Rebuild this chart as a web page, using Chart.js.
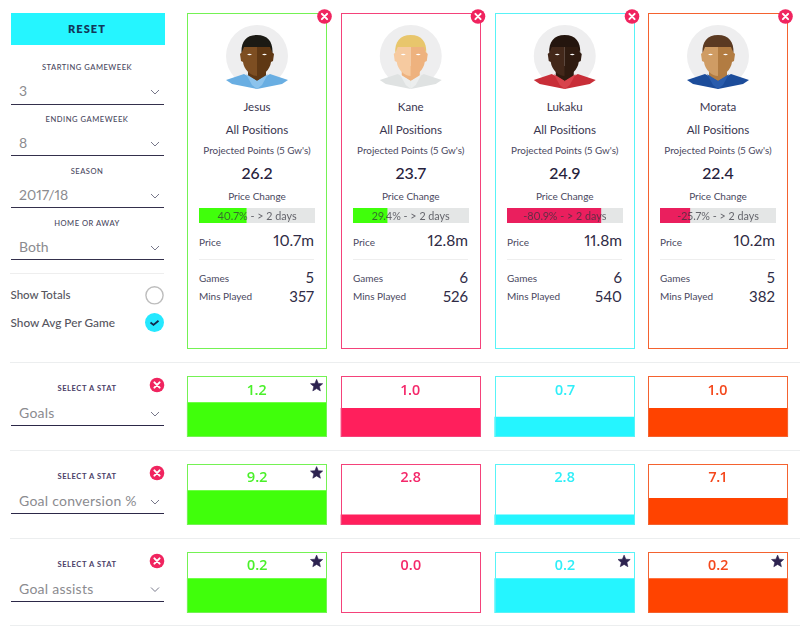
<!DOCTYPE html>
<html><head><meta charset="utf-8">
<style>
html,body{margin:0;padding:0;background:#fff;width:800px;height:628px;overflow:hidden}
#root{position:relative;width:800px;height:628px;font-family:"Lato","Noto Sans",sans-serif;color:#2f2b45;font-variant-numeric:proportional-nums;font-feature-settings:"pnum" 1}
#root div.t{position:absolute;white-space:nowrap;line-height:1}
#root canvas{position:absolute}
#root svg{position:absolute;overflow:visible}
.box{position:absolute;box-sizing:border-box}
</style>
<script src="https://cdn.jsdelivr.net/npm/chart.js@4/dist/chart.umd.min.js"></script>
</head><body><div id="root"></div>
<script>
const players=["Jesus","Kane","Lukaku","Morata"];
const projectedPoints=["26.2","23.7","24.9","22.4"];
const priceChange=[40.7,29.4,-80.9,-25.7];
const prices=["10.7m","12.8m","11.8m","10.2m"];
const games=[5,6,6,5];
const minsPlayed=[357,526,540,382];
const statNames=["Goals","Goal conversion %","Goal assists"];
const goals=[1.2,1.0,0.7,1.0];
const goalConversion=[9.2,2.8,2.8,7.1];
const goalAssists=[0.2,0.0,0.2,0.2];
const statStars=[[0],[0],[0,2,3]];
const statAxisMax=[2.1,16.1,0.35];
const filterLabels=["STARTING GAMEWEEK","ENDING GAMEWEEK","SEASON","HOME OR AWAY"];
const filterValues=["3","8","2017/18","Both"];

const root=document.getElementById('root');
const NS='http://www.w3.org/2000/svg';
const barCols=['#40ff0b','#ff1f5c','#25f5ff','#ff4300'];
const borderCols=['#74f254','#f4427a','#58f3f7','#f4622f'];
const cardL=[187,341,495,648], cardW=[140,139.5,139.5,140];
const faces=[
 {l:'#7d4e22',r:'#5f3814',hair:'#1b1a14',shirt:'#69aee2',shirt2:'#8cc3ec'},
 {l:'#f6caa0',r:'#eeb27e',hair:'#e8c66c',shirt:'#dfe2e2',shirt2:'#eceeee'},
 {l:'#43281a',r:'#2f1b10',hair:'#24150e',shirt:'#c82e38',shirt2:'#d8434c'},
 {l:'#cf9c64',r:'#b27c42',hair:'#5b3a22',shirt:'#1c4c9a',shirt2:'#2a5cac'}];

function T(s,x,y,o={}){
 const d=document.createElement('div');d.className='t';d.textContent=s;
 const a=o.a||'l';
 d.style.top=y+'px';
 d.style.left=x+'px';
 d.style.transform='translate('+(a==='c'?'-50%':a==='r'?'-100%':'0')+',-50%)';
 d.style.fontSize=(o.s||12)+'px';
 d.style.color=o.c||'#3a3650';
 if(o.w)d.style.fontWeight=o.w;
 if(o.f)d.style.fontFamily=o.f;
 if(o.ls)d.style.letterSpacing=o.ls+'px';
 if(o.z)d.style.zIndex=o.z;
 root.appendChild(d);return d;
}
function B(x,y,w,h,css){const d=document.createElement('div');d.className='box';
 d.style.cssText+=`left:${x}px;top:${y}px;width:${w}px;height:${h}px;`+(css||'');root.appendChild(d);return d;}
function S(markup,z){const s=document.createElementNS(NS,'svg');s.setAttribute('width','800');s.setAttribute('height','628');
 s.style.left='0';s.style.top='0';if(z)s.style.zIndex=z;s.innerHTML=markup;root.appendChild(s);}
const chev=(x,y)=>`<polyline points="${x-4},${y-2} ${x},${y+2} ${x+4},${y-2}" fill="none" stroke="#77788a" stroke-width="1"/>`;
const closeI=(x,y)=>`<circle cx="${x}" cy="${y}" r="7.3" fill="#f0245f"/><path d="M${x-2.6} ${y-2.6}L${x+2.6} ${y+2.6}M${x+2.6} ${y-2.6}L${x-2.6} ${y+2.6}" stroke="#fff" stroke-width="2" stroke-linecap="round"/>`;
function star(x,y){const p=[];for(let i=0;i<10;i++){const r=i%2?2.9:6.4,a=-Math.PI/2+i*Math.PI/5;p.push((x+r*Math.cos(a)).toFixed(1)+','+(y+r*Math.sin(a)).toFixed(1));}
 return `<polygon points="${p.join(' ')}" fill="#2d2350" stroke="#2d2350" stroke-width=".6" stroke-linejoin="round"/>`;}

/* left panel */
B(10.5,12.5,154,32,'background:#25f5ff');
T('RESET',87,28,{a:'c',s:11,w:800,c:'#12385a',ls:1.1});
const fy=[[67.5,91,104.5],[120,143,155.5],[171.5,195,207.5],[223.5,247,259]];
let svg='';
filterLabels.forEach((l,i)=>{
 T(l,87,fy[i][0],{a:'c',s:7.6,c:'#4a4860',ls:.5,w:500});
 T(filterValues[i],19,fy[i][1],{s:14,c:'#8b8b8f',ls:0});
 B(10.5,fy[i][2]-.5,153.5,1.3,'background:#34304c');
 svg+=chev(155,fy[i][1]+1);
});
B(10,273,154,1,'background:#eeeeee');
T('Show Totals',10.5,295,{s:11.5,c:'#55555e',w:500});
T('Show Avg Per Game',10.5,322.5,{s:11.8,c:'#55555e',w:500});
svg+=`<circle cx="154.5" cy="295.3" r="8.6" fill="#fff" stroke="#bdbdbd" stroke-width="1.4"/>`;
svg+=`<circle cx="154.5" cy="322.5" r="9.5" fill="#25e8ff"/><path d="M150.5 322.5l3 2.4 5-4.2" fill="none" stroke="#12284a" stroke-width="1.8"/>`;

/* cards */
players.forEach((name,i)=>{
 const L=cardL[i],W=cardW[i],cx=L+W/2,R=L+127,IL=L+12;
 B(L,13,W,336,'border:1.5px solid '+borderCols[i]);
 T(name,cx,107,{a:'c',s:11.5,c:'#3a3650'});
 T('All Positions',cx,130,{a:'c',s:11.6,c:'#3a3650'});
 T("Projected Points (5 Gw's)",cx,150.5,{a:'c',s:9.9,c:'#4a4860'});
 T(projectedPoints[i],cx,172.5,{a:'c',s:16,c:'#26223c',w:500});
 T('Price Change',cx,196,{a:'c',s:10,c:'#4a4860'});
 T(priceChange[i].toFixed(1)+'% - > 2 days',cx,215.7,{a:'c',s:10.8,z:3,c:'rgba(50,50,60,.72)'});
 T('Price',IL,241.5,{s:10,c:'#4a4860'});
 T(prices[i],R,241,{a:'r',s:15.5,c:'#2f2b45'});
 B(IL,258.5,115,1,'background:#eeeeee');
 T('Games',IL,277.5,{s:10,c:'#4a4860'});
 T(String(games[i]),R,277,{a:'r',s:15,c:'#2f2b45'});
 T('Mins Played',IL,296,{s:10,c:'#4a4860'});
 T(String(minsPlayed[i]),R,295.5,{a:'r',s:15,c:'#2f2b45'});
 svg+=closeI(L+W-2.5,16.5);
 /* avatar */
 const c=faces[i],ax=cx;
 svg+=`<g transform="translate(${ax} 0)">
 <circle cx="0" cy="56" r="31" fill="#eeeeef"/>
 <rect x="-9" y="66" width="18" height="16" fill="${c.r}"/>
 <polygon points="-31,80 -13,74 0,81 0,89 -25,84" fill="${c.shirt}"/>
 <polygon points="31,80 13,74 0,81 0,89 25,84" fill="${c.shirt}"/>
 <polygon points="-11,74 0,81 0,89 -5,85" fill="${c.shirt2}"/><polygon points="11,74 0,81 0,89 5,85" fill="${c.shirt2}"/>
 <path d="M0 36 C-11 36 -15 44 -15 52 L-17 54 L-16 61 L-14 62 C-13 70 -6 76 0 76 Z" fill="${c.l}"/>
 <path d="M0 36 C11 36 15 44 15 52 L17 54 L16 61 L14 62 C13 70 6 76 0 76 Z" fill="${c.r}"/>
 <path d="M0 35 C-11 35 -16 42 -15.5 53 L-13 47 L13 47 L15.5 53 C16 42 11 35 0 35 Z" fill="${c.hair}"/>
 <path d="M-10 54.5 Q-7.5 52.8 -5 54.5 Q-7.5 56 -10 54.5 Z M10 54.5 Q7.5 52.8 5 54.5 Q7.5 56 10 54.5 Z" fill="#fff"/>
 </g>`;
});

/* stat rows */
const statRows=[goals,goalConversion,goalAssists];
const rowTop=[376,463.5,551.5], rowH=[61,61,61];
const rowRule=[361.5,449.5,537.5,625];
rowRule.forEach(y=>B(10,y,790,1,'background:#eceeef'));
const lbl=[389,477,564.5],val=[413,501,588.5],ln=[425.5,513.5,601.5],ic=[385,473,561],starY=[385.7,473,561.5];
const valCols=['#4af02a','#f4286a','#30eef8','#f4481c'];
statNames.forEach((n,r)=>{
 T('SELECT A STAT',87,lbl[r],{a:'c',s:7.6,c:'#4a4068',ls:.55,w:700});
 T(n,19,val[r],{s:14,c:'#8b8b8f',ls:.25});
 B(10.5,ln[r]-.5,153.5,1.3,'background:#2c2848');
 svg+=chev(155,val[r]+1)+closeI(157,ic[r]);
 statRows[r].forEach((v,i)=>{
  B(cardL[i],rowTop[r],cardW[i],rowH[r],'z-index:2;border:1.5px solid '+borderCols[i]);
  T(v.toFixed(1),cardL[i]+cardW[i]/2,rowTop[r]+13.8,{a:'c',s:14.5,w:600,f:'"Open Sans"',c:valCols[i],z:3});
 });
 statStars[r].forEach(i=>{svg+=star(cardL[i]+cardW[i]-10.4,starY[r]);});
 /* bar chart per row */
 const cv=document.createElement('canvas');
 cv.width=615;cv.height=61;cv.style.left='180px';cv.style.top=rowTop[r]+'px';cv.style.width='615px';cv.style.height='61px';
 root.appendChild(cv);
 new Chart(cv,{type:'bar',data:{labels:players,datasets:[{data:statRows[r],backgroundColor:barCols,borderWidth:0,barPercentage:.91,categoryPercentage:1}]},
  options:{responsive:false,animation:false,devicePixelRatio:1,layout:{padding:0},plugins:{legend:{display:false},tooltip:{enabled:false}},
  scales:{x:{display:false},y:{display:false,min:0,max:statAxisMax[r]}}}});
});
S(svg,4);

/* price change bars */
priceChange.forEach((v,i)=>{
 const cv=document.createElement('canvas');
 cv.width=116;cv.height=15;cv.style.left=(cardL[i]+12)+'px';cv.style.top='208px';cv.style.width='116px';cv.style.height='15px';
 root.appendChild(cv);
 new Chart(cv,{type:'bar',data:{labels:[players[i]],datasets:[
  {data:[Math.abs(v)],backgroundColor:v>=0?'#40ff0b':'#ea1f5e',borderWidth:0,order:1,barPercentage:1,categoryPercentage:1,grouped:false},
  {data:[100],backgroundColor:'#e4e6e6',borderWidth:0,order:2,barPercentage:1,categoryPercentage:1,grouped:false}]},
  options:{indexAxis:'y',responsive:false,animation:false,devicePixelRatio:1,layout:{padding:0},plugins:{legend:{display:false},tooltip:{enabled:false}},
  scales:{x:{display:false,min:0,max:100},y:{display:false}}}});
});
</script></body></html>
